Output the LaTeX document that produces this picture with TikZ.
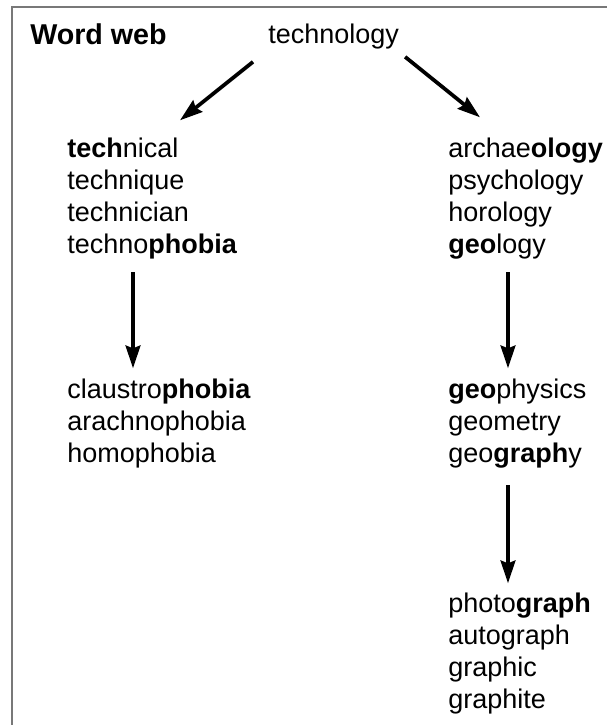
\documentclass[tikz,border=0pt]{standalone}
\usepackage{fontspec}
\setmainfont{Liberation Sans}
\usetikzlibrary{arrows.meta,calc}

\begin{document}
\begin{tikzpicture}[x=0.75pt,y=0.75pt,yscale=-1,xscale=1,
    wordtext/.style={inner sep=0pt,font=\fontsize{20.25}{24}\selectfont},
    wordlist/.style={wordtext,align=left,anchor=north west},
    webarrow/.style={line width=2.8pt,-{Stealth[length=17pt,width=11pt,inset=2pt]}},
    frameline/.style={draw={rgb,255:red,120;green,120;blue,120},line width=1.5pt}]
        \useasboundingbox (0,0) rectangle (607,725);
        %Shape: Frame (left and top edges)
        \draw [frameline] (12,725) -- (12,7) -- (607,7) ;

        %Text: title and root word
        \node [inner sep=0pt,font=\fontsize{21.5}{24}\selectfont,anchor=base west] (title) at (30,44) {\textbf{Word web}};
        \node [wordtext,anchor=base west] (root) at (268,43) {technology};

        %Text: word lists
        \node [wordlist] (techList) at (67,137.3) {\textbf{tech}nical\\technique\\technician\\techno\textbf{phobia}};
        \node [wordlist] (ologyList) at (448,137.3) {archae\textbf{ology}\\psychology\\horology\\\textbf{geo}logy};
        \node [wordlist] (phobiaList) at (67,378.3) {claustro\textbf{phobia}\\arachnophobia\\homophobia};
        \node [wordlist] (geoList) at (448,378.3) {\textbf{geo}physics\\geometry\\geo\textbf{graph}y};
        \node [wordlist] (graphList) at (448,592.3) {photo\textbf{graph}\\autograph\\graphic\\graphite};

        %Straight Lines: arrows
        \draw [webarrow] ($(root.south west)+(-15,13)$) -- ($(techList.north west)+(113,-17)$) ;
        \draw [webarrow] ($(root.south east)+(6,8)$) -- ($(ologyList.north west)+(32,-20)$) ;
        \draw [webarrow] ($(techList.south west)+(66,13)$) -- ($(phobiaList.north west)+(66,-10)$) ;
        \draw [webarrow] ($(ologyList.south west)+(60,13)$) -- ($(geoList.north west)+(60,-10)$) ;
        \draw [webarrow] ($(geoList.south west)+(60,17)$) -- ($(graphList.north west)+(60,-9)$) ;
\end{tikzpicture}
\end{document}
